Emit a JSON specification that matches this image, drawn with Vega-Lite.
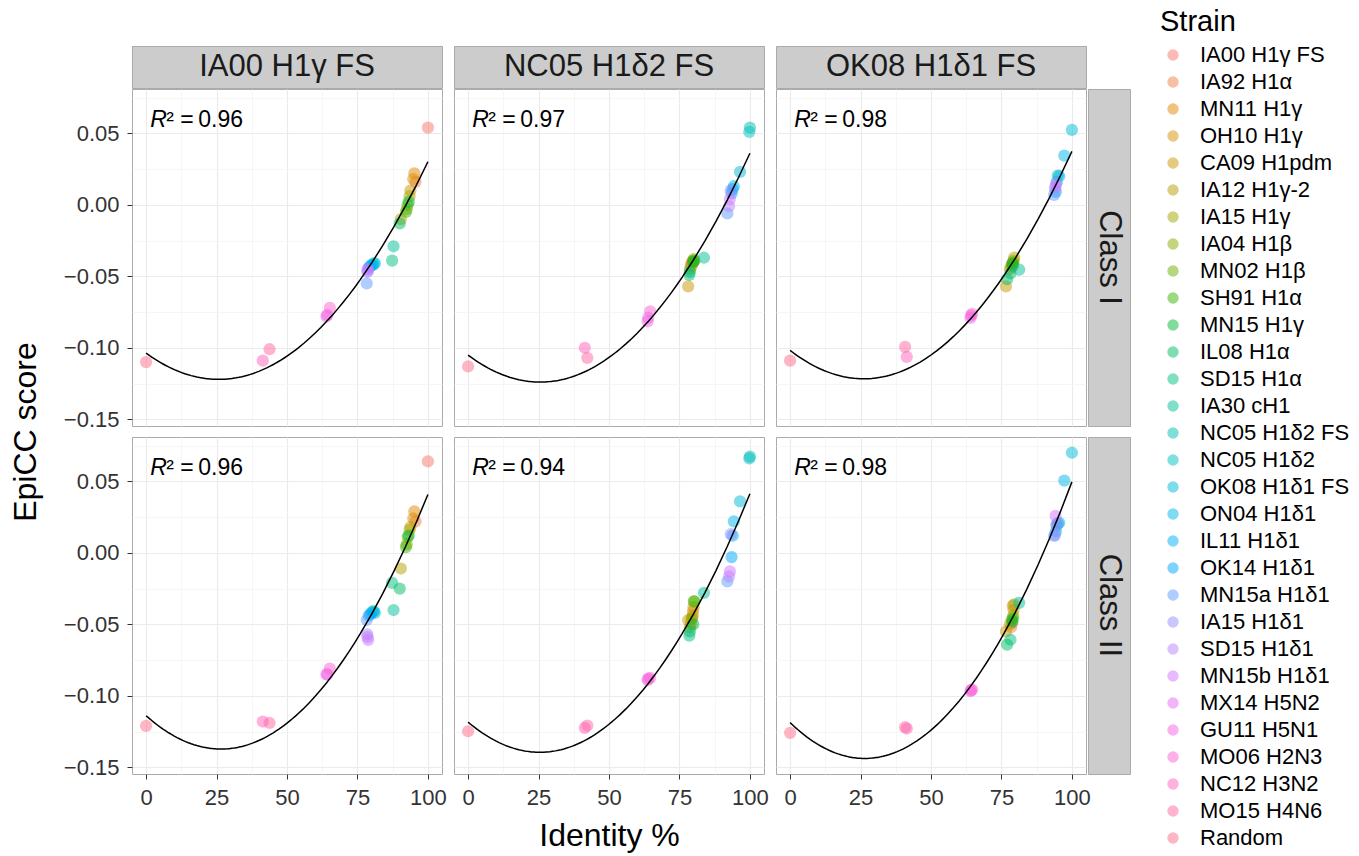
{
  "$schema": "https://vega.github.io/schema/vega-lite/v6.json",
  "autosize": "none",
  "padding": {"left": 132, "top": 46, "right": 1227, "bottom": 810},
  "background": "white",
  "config": {
    "font": "Liberation Sans",
    "view": {"stroke": "#aaaaaa", "strokeWidth": 1},
    "axis": {"domain": false, "gridColor": "#ebebeb", "gridWidth": 1.1, "tickSize": 5, "tickColor": "#333333", "tickWidth": 1, "labelFontSize": 22, "labelColor": "#333333", "labelPadding": 8, "titleFontSize": 32, "titleFontWeight": "normal", "titleColor": "black"},
    "legend": {"labelFontSize": 22}
  },
  "datasets": {
    "r2": [
      {"ref": "IA00", "cls": "I", "r2": 0.96},
      {"ref": "NC05", "cls": "I", "r2": 0.97},
      {"ref": "OK08", "cls": "I", "r2": 0.98},
      {"ref": "IA00", "cls": "II", "r2": 0.96},
      {"ref": "NC05", "cls": "II", "r2": 0.94},
      {"ref": "OK08", "cls": "II", "r2": 0.98}
    ],
    "points": [
      {"ref":"IA00","cls":"I","strain":"IA00 H1γ FS","identity":100,"score":0.054},
      {"ref":"IA00","cls":"I","strain":"IA92 H1α","identity":95.6,"score":0.016},
      {"ref":"IA00","cls":"I","strain":"MN11 H1γ","identity":95.2,"score":0.022},
      {"ref":"IA00","cls":"I","strain":"OH10 H1γ","identity":94.8,"score":0.018},
      {"ref":"IA00","cls":"I","strain":"CA09 H1pdm","identity":93.8,"score":0.010},
      {"ref":"IA00","cls":"I","strain":"IA12 H1γ-2","identity":90.4,"score":-0.010},
      {"ref":"IA00","cls":"I","strain":"IA15 H1γ","identity":93.5,"score":0.006},
      {"ref":"IA00","cls":"I","strain":"IA04 H1β","identity":92.5,"score":-0.003},
      {"ref":"IA00","cls":"I","strain":"MN02 H1β","identity":92.8,"score":0.000},
      {"ref":"IA00","cls":"I","strain":"SH91 H1α","identity":92.2,"score":-0.005},
      {"ref":"IA00","cls":"I","strain":"MN15 H1γ","identity":93.2,"score":0.002},
      {"ref":"IA00","cls":"I","strain":"IL08 H1α","identity":90.0,"score":-0.013},
      {"ref":"IA00","cls":"I","strain":"SD15 H1α","identity":87.3,"score":-0.039},
      {"ref":"IA00","cls":"I","strain":"IA30 cH1","identity":87.8,"score":-0.029},
      {"ref":"IA00","cls":"I","strain":"NC05 H1δ2 FS","identity":80.5,"score":-0.042},
      {"ref":"IA00","cls":"I","strain":"NC05 H1δ2","identity":80.8,"score":-0.041},
      {"ref":"IA00","cls":"I","strain":"OK08 H1δ1 FS","identity":80.0,"score":-0.042},
      {"ref":"IA00","cls":"I","strain":"ON04 H1δ1","identity":81.2,"score":-0.041},
      {"ref":"IA00","cls":"I","strain":"IL11 H1δ1","identity":79.5,"score":-0.043},
      {"ref":"IA00","cls":"I","strain":"OK14 H1δ1","identity":79.0,"score":-0.044},
      {"ref":"IA00","cls":"I","strain":"MN15a H1δ1","identity":78.3,"score":-0.055},
      {"ref":"IA00","cls":"I","strain":"IA15 H1δ1","identity":78.5,"score":-0.047},
      {"ref":"IA00","cls":"I","strain":"SD15 H1δ1","identity":78.8,"score":-0.046},
      {"ref":"IA00","cls":"I","strain":"MN15b H1δ1","identity":78.6,"score":-0.045},
      {"ref":"IA00","cls":"I","strain":"MX14 H5N2","identity":64.0,"score":-0.078},
      {"ref":"IA00","cls":"I","strain":"GU11 H5N1","identity":64.3,"score":-0.077},
      {"ref":"IA00","cls":"I","strain":"MO06 H2N3","identity":65.2,"score":-0.072},
      {"ref":"IA00","cls":"I","strain":"NC12 H3N2","identity":41.4,"score":-0.109},
      {"ref":"IA00","cls":"I","strain":"MO15 H4N6","identity":43.8,"score":-0.101},
      {"ref":"IA00","cls":"I","strain":"Random","identity":0,"score":-0.110},

      {"ref":"IA00","cls":"II","strain":"IA00 H1γ FS","identity":100,"score":0.064},
      {"ref":"IA00","cls":"II","strain":"IA92 H1α","identity":95.6,"score":0.022},
      {"ref":"IA00","cls":"II","strain":"MN11 H1γ","identity":95.2,"score":0.029},
      {"ref":"IA00","cls":"II","strain":"OH10 H1γ","identity":94.8,"score":0.024},
      {"ref":"IA00","cls":"II","strain":"CA09 H1pdm","identity":93.8,"score":0.018},
      {"ref":"IA00","cls":"II","strain":"IA12 H1γ-2","identity":90.4,"score":-0.011},
      {"ref":"IA00","cls":"II","strain":"IA15 H1γ","identity":93.5,"score":0.016},
      {"ref":"IA00","cls":"II","strain":"IA04 H1β","identity":92.5,"score":0.006},
      {"ref":"IA00","cls":"II","strain":"MN02 H1β","identity":92.8,"score":0.011},
      {"ref":"IA00","cls":"II","strain":"SH91 H1α","identity":92.2,"score":0.004},
      {"ref":"IA00","cls":"II","strain":"MN15 H1γ","identity":93.2,"score":0.012},
      {"ref":"IA00","cls":"II","strain":"IL08 H1α","identity":90.0,"score":-0.025},
      {"ref":"IA00","cls":"II","strain":"SD15 H1α","identity":87.3,"score":-0.021},
      {"ref":"IA00","cls":"II","strain":"IA30 cH1","identity":87.8,"score":-0.040},
      {"ref":"IA00","cls":"II","strain":"NC05 H1δ2 FS","identity":80.5,"score":-0.041},
      {"ref":"IA00","cls":"II","strain":"NC05 H1δ2","identity":80.8,"score":-0.041},
      {"ref":"IA00","cls":"II","strain":"OK08 H1δ1 FS","identity":80.0,"score":-0.042},
      {"ref":"IA00","cls":"II","strain":"ON04 H1δ1","identity":81.2,"score":-0.042},
      {"ref":"IA00","cls":"II","strain":"IL11 H1δ1","identity":79.5,"score":-0.043},
      {"ref":"IA00","cls":"II","strain":"OK14 H1δ1","identity":79.0,"score":-0.044},
      {"ref":"IA00","cls":"II","strain":"MN15a H1δ1","identity":78.3,"score":-0.047},
      {"ref":"IA00","cls":"II","strain":"IA15 H1δ1","identity":78.5,"score":-0.057},
      {"ref":"IA00","cls":"II","strain":"SD15 H1δ1","identity":78.8,"score":-0.061},
      {"ref":"IA00","cls":"II","strain":"MN15b H1δ1","identity":78.6,"score":-0.059},
      {"ref":"IA00","cls":"II","strain":"MX14 H5N2","identity":64.0,"score":-0.085},
      {"ref":"IA00","cls":"II","strain":"GU11 H5N1","identity":64.3,"score":-0.085},
      {"ref":"IA00","cls":"II","strain":"MO06 H2N3","identity":65.2,"score":-0.081},
      {"ref":"IA00","cls":"II","strain":"NC12 H3N2","identity":41.4,"score":-0.118},
      {"ref":"IA00","cls":"II","strain":"MO15 H4N6","identity":43.8,"score":-0.119},
      {"ref":"IA00","cls":"II","strain":"Random","identity":0,"score":-0.121},

      {"ref":"NC05","cls":"I","strain":"IA00 H1γ FS","identity":79.5,"score":-0.040},
      {"ref":"NC05","cls":"I","strain":"IA92 H1α","identity":79.0,"score":-0.042},
      {"ref":"NC05","cls":"I","strain":"MN11 H1γ","identity":79.8,"score":-0.039},
      {"ref":"NC05","cls":"I","strain":"OH10 H1γ","identity":80.0,"score":-0.040},
      {"ref":"NC05","cls":"I","strain":"CA09 H1pdm","identity":78.1,"score":-0.057},
      {"ref":"NC05","cls":"I","strain":"IA12 H1γ-2","identity":78.7,"score":-0.045},
      {"ref":"NC05","cls":"I","strain":"IA15 H1γ","identity":79.7,"score":-0.040},
      {"ref":"NC05","cls":"I","strain":"IA04 H1β","identity":79.3,"score":-0.043},
      {"ref":"NC05","cls":"I","strain":"MN02 H1β","identity":80.1,"score":-0.038},
      {"ref":"NC05","cls":"I","strain":"SH91 H1α","identity":80.3,"score":-0.039},
      {"ref":"NC05","cls":"I","strain":"MN15 H1γ","identity":79.9,"score":-0.040},
      {"ref":"NC05","cls":"I","strain":"IL08 H1α","identity":78.7,"score":-0.047},
      {"ref":"NC05","cls":"I","strain":"SD15 H1α","identity":78.5,"score":-0.049},
      {"ref":"NC05","cls":"I","strain":"IA30 cH1","identity":83.7,"score":-0.037},
      {"ref":"NC05","cls":"I","strain":"NC05 H1δ2 FS","identity":100,"score":0.054},
      {"ref":"NC05","cls":"I","strain":"NC05 H1δ2","identity":99.8,"score":0.051},
      {"ref":"NC05","cls":"I","strain":"OK08 H1δ1 FS","identity":96.5,"score":0.023},
      {"ref":"NC05","cls":"I","strain":"ON04 H1δ1","identity":94.3,"score":0.013},
      {"ref":"NC05","cls":"I","strain":"IL11 H1δ1","identity":93.9,"score":0.011},
      {"ref":"NC05","cls":"I","strain":"OK14 H1δ1","identity":93.5,"score":0.008},
      {"ref":"NC05","cls":"I","strain":"MN15a H1δ1","identity":92.0,"score":-0.006},
      {"ref":"NC05","cls":"I","strain":"IA15 H1δ1","identity":93.2,"score":0.010},
      {"ref":"NC05","cls":"I","strain":"SD15 H1δ1","identity":92.6,"score":-0.001},
      {"ref":"NC05","cls":"I","strain":"MN15b H1δ1","identity":92.9,"score":0.004},
      {"ref":"NC05","cls":"I","strain":"MX14 H5N2","identity":63.9,"score":-0.079},
      {"ref":"NC05","cls":"I","strain":"GU11 H5N1","identity":63.7,"score":-0.0815},
      {"ref":"NC05","cls":"I","strain":"MO06 H2N3","identity":64.6,"score":-0.0745},
      {"ref":"NC05","cls":"I","strain":"NC12 H3N2","identity":41.4,"score":-0.100},
      {"ref":"NC05","cls":"I","strain":"MO15 H4N6","identity":42.3,"score":-0.107},
      {"ref":"NC05","cls":"I","strain":"Random","identity":0,"score":-0.113},

      {"ref":"NC05","cls":"II","strain":"IA00 H1γ FS","identity":79.5,"score":-0.046},
      {"ref":"NC05","cls":"II","strain":"IA92 H1α","identity":79.0,"score":-0.050},
      {"ref":"NC05","cls":"II","strain":"MN11 H1γ","identity":79.8,"score":-0.041},
      {"ref":"NC05","cls":"II","strain":"OH10 H1γ","identity":80.0,"score":-0.038},
      {"ref":"NC05","cls":"II","strain":"CA09 H1pdm","identity":78.1,"score":-0.047},
      {"ref":"NC05","cls":"II","strain":"IA12 H1γ-2","identity":78.7,"score":-0.052},
      {"ref":"NC05","cls":"II","strain":"IA15 H1γ","identity":79.7,"score":-0.044},
      {"ref":"NC05","cls":"II","strain":"IA04 H1β","identity":79.3,"score":-0.046},
      {"ref":"NC05","cls":"II","strain":"MN02 H1β","identity":80.1,"score":-0.034},
      {"ref":"NC05","cls":"II","strain":"SH91 H1α","identity":80.3,"score":-0.034},
      {"ref":"NC05","cls":"II","strain":"MN15 H1γ","identity":79.9,"score":-0.050},
      {"ref":"NC05","cls":"II","strain":"IL08 H1α","identity":78.7,"score":-0.055},
      {"ref":"NC05","cls":"II","strain":"SD15 H1α","identity":78.5,"score":-0.058},
      {"ref":"NC05","cls":"II","strain":"IA30 cH1","identity":83.7,"score":-0.028},
      {"ref":"NC05","cls":"II","strain":"NC05 H1δ2 FS","identity":100,"score":0.0673},
      {"ref":"NC05","cls":"II","strain":"NC05 H1δ2","identity":99.8,"score":0.066},
      {"ref":"NC05","cls":"II","strain":"OK08 H1δ1 FS","identity":96.5,"score":0.036},
      {"ref":"NC05","cls":"II","strain":"ON04 H1δ1","identity":94.3,"score":0.022},
      {"ref":"NC05","cls":"II","strain":"IL11 H1δ1","identity":93.9,"score":0.012},
      {"ref":"NC05","cls":"II","strain":"OK14 H1δ1","identity":93.5,"score":-0.003},
      {"ref":"NC05","cls":"II","strain":"MN15a H1δ1","identity":92.0,"score":-0.020},
      {"ref":"NC05","cls":"II","strain":"IA15 H1δ1","identity":93.2,"score":0.013},
      {"ref":"NC05","cls":"II","strain":"SD15 H1δ1","identity":92.6,"score":-0.0165},
      {"ref":"NC05","cls":"II","strain":"MN15b H1δ1","identity":92.9,"score":-0.013},
      {"ref":"NC05","cls":"II","strain":"MX14 H5N2","identity":63.9,"score":-0.088},
      {"ref":"NC05","cls":"II","strain":"GU11 H5N1","identity":63.7,"score":-0.089},
      {"ref":"NC05","cls":"II","strain":"MO06 H2N3","identity":64.6,"score":-0.0875},
      {"ref":"NC05","cls":"II","strain":"NC12 H3N2","identity":41.4,"score":-0.1224},
      {"ref":"NC05","cls":"II","strain":"MO15 H4N6","identity":42.3,"score":-0.1208},
      {"ref":"NC05","cls":"II","strain":"Random","identity":0,"score":-0.1248},

      {"ref":"OK08","cls":"I","strain":"IA00 H1γ FS","identity":78.8,"score":-0.042},
      {"ref":"OK08","cls":"I","strain":"IA92 H1α","identity":78.4,"score":-0.044},
      {"ref":"OK08","cls":"I","strain":"MN11 H1γ","identity":79.3,"score":-0.039},
      {"ref":"OK08","cls":"I","strain":"OH10 H1γ","identity":79.0,"score":-0.041},
      {"ref":"OK08","cls":"I","strain":"CA09 H1pdm","identity":76.6,"score":-0.057},
      {"ref":"OK08","cls":"I","strain":"IA12 H1γ-2","identity":78.0,"score":-0.045},
      {"ref":"OK08","cls":"I","strain":"IA15 H1γ","identity":79.5,"score":-0.037},
      {"ref":"OK08","cls":"I","strain":"IA04 H1β","identity":78.6,"score":-0.042},
      {"ref":"OK08","cls":"I","strain":"MN02 H1β","identity":79.2,"score":-0.040},
      {"ref":"OK08","cls":"I","strain":"SH91 H1α","identity":79.0,"score":-0.043},
      {"ref":"OK08","cls":"I","strain":"MN15 H1γ","identity":78.9,"score":-0.041},
      {"ref":"OK08","cls":"I","strain":"IL08 H1α","identity":77.0,"score":-0.052},
      {"ref":"OK08","cls":"I","strain":"SD15 H1α","identity":78.2,"score":-0.048},
      {"ref":"OK08","cls":"I","strain":"IA30 cH1","identity":81.3,"score":-0.0454},
      {"ref":"OK08","cls":"I","strain":"NC05 H1δ2 FS","identity":95.0,"score":0.0205},
      {"ref":"OK08","cls":"I","strain":"NC05 H1δ2","identity":94.6,"score":0.016},
      {"ref":"OK08","cls":"I","strain":"OK08 H1δ1 FS","identity":100,"score":0.0524},
      {"ref":"OK08","cls":"I","strain":"ON04 H1δ1","identity":97.3,"score":0.0344},
      {"ref":"OK08","cls":"I","strain":"IL11 H1δ1","identity":95.5,"score":0.020},
      {"ref":"OK08","cls":"I","strain":"OK14 H1δ1","identity":94.3,"score":0.009},
      {"ref":"OK08","cls":"I","strain":"MN15a H1δ1","identity":93.7,"score":0.007},
      {"ref":"OK08","cls":"I","strain":"IA15 H1δ1","identity":94.0,"score":0.0116},
      {"ref":"OK08","cls":"I","strain":"SD15 H1δ1","identity":94.5,"score":0.0151},
      {"ref":"OK08","cls":"I","strain":"MN15b H1δ1","identity":94.2,"score":0.013},
      {"ref":"OK08","cls":"I","strain":"MX14 H5N2","identity":64.0,"score":-0.0791},
      {"ref":"OK08","cls":"I","strain":"GU11 H5N1","identity":64.6,"score":-0.0763},
      {"ref":"OK08","cls":"I","strain":"MO06 H2N3","identity":64.2,"score":-0.0775},
      {"ref":"OK08","cls":"I","strain":"NC12 H3N2","identity":41.4,"score":-0.1064},
      {"ref":"OK08","cls":"I","strain":"MO15 H4N6","identity":40.8,"score":-0.0994},
      {"ref":"OK08","cls":"I","strain":"Random","identity":0,"score":-0.109},

      {"ref":"OK08","cls":"II","strain":"IA00 H1γ FS","identity":78.8,"score":-0.049},
      {"ref":"OK08","cls":"II","strain":"IA92 H1α","identity":78.4,"score":-0.052},
      {"ref":"OK08","cls":"II","strain":"MN11 H1γ","identity":79.3,"score":-0.040},
      {"ref":"OK08","cls":"II","strain":"OH10 H1γ","identity":79.0,"score":-0.037},
      {"ref":"OK08","cls":"II","strain":"CA09 H1pdm","identity":76.6,"score":-0.055},
      {"ref":"OK08","cls":"II","strain":"IA12 H1γ-2","identity":78.0,"score":-0.050},
      {"ref":"OK08","cls":"II","strain":"IA15 H1γ","identity":79.5,"score":-0.036},
      {"ref":"OK08","cls":"II","strain":"IA04 H1β","identity":78.6,"score":-0.047},
      {"ref":"OK08","cls":"II","strain":"MN02 H1β","identity":79.2,"score":-0.044},
      {"ref":"OK08","cls":"II","strain":"SH91 H1α","identity":79.0,"score":-0.046},
      {"ref":"OK08","cls":"II","strain":"MN15 H1γ","identity":78.9,"score":-0.048},
      {"ref":"OK08","cls":"II","strain":"IL08 H1α","identity":77.0,"score":-0.0642},
      {"ref":"OK08","cls":"II","strain":"SD15 H1α","identity":78.2,"score":-0.0608},
      {"ref":"OK08","cls":"II","strain":"IA30 cH1","identity":81.3,"score":-0.035},
      {"ref":"OK08","cls":"II","strain":"NC05 H1δ2 FS","identity":95.0,"score":0.0207},
      {"ref":"OK08","cls":"II","strain":"NC05 H1δ2","identity":94.6,"score":0.019},
      {"ref":"OK08","cls":"II","strain":"OK08 H1δ1 FS","identity":100,"score":0.070},
      {"ref":"OK08","cls":"II","strain":"ON04 H1δ1","identity":97.3,"score":0.0505},
      {"ref":"OK08","cls":"II","strain":"IL11 H1δ1","identity":95.5,"score":0.021},
      {"ref":"OK08","cls":"II","strain":"OK14 H1δ1","identity":94.3,"score":0.0149},
      {"ref":"OK08","cls":"II","strain":"MN15a H1δ1","identity":93.7,"score":0.0119},
      {"ref":"OK08","cls":"II","strain":"IA15 H1δ1","identity":94.0,"score":0.0125},
      {"ref":"OK08","cls":"II","strain":"SD15 H1δ1","identity":94.5,"score":0.020},
      {"ref":"OK08","cls":"II","strain":"MN15b H1δ1","identity":94.2,"score":0.0258},
      {"ref":"OK08","cls":"II","strain":"MX14 H5N2","identity":64.0,"score":-0.0968},
      {"ref":"OK08","cls":"II","strain":"GU11 H5N1","identity":64.6,"score":-0.0957},
      {"ref":"OK08","cls":"II","strain":"MO06 H2N3","identity":64.2,"score":-0.096},
      {"ref":"OK08","cls":"II","strain":"NC12 H3N2","identity":41.4,"score":-0.1229},
      {"ref":"OK08","cls":"II","strain":"MO15 H4N6","identity":40.8,"score":-0.122},
      {"ref":"OK08","cls":"II","strain":"Random","identity":0,"score":-0.1259}
    ]
  },
  "columns": 6,
  "bounds": "flush",
  "align": "each",
  "spacing": {"row": 1, "column": 2},
  "concat": [
    {"width": 310, "height": 42, "view": {"fill": "#cccccc", "stroke": "#aaaaaa"}, "data": {"values": [{"label": "IA00 H1γ FS"}]}, "mark": {"type": "text", "fontSize": 31, "color": "#1a1a1a"}, "encoding": {"text": {"field": "label"}}},
    {"width": 8, "height": 1, "view": {"stroke": null}, "data": {"values": []}, "mark": {"type": "point"}},
    {"width": 310, "height": 42, "view": {"fill": "#cccccc", "stroke": "#aaaaaa"}, "data": {"values": [{"label": "NC05 H1δ2 FS"}]}, "mark": {"type": "text", "fontSize": 31, "color": "#1a1a1a"}, "encoding": {"text": {"field": "label"}}},
    {"width": 8, "height": 1, "view": {"stroke": null}, "data": {"values": []}, "mark": {"type": "point"}},
    {"width": 310, "height": 42, "view": {"fill": "#cccccc", "stroke": "#aaaaaa"}, "data": {"values": [{"label": "OK08 H1δ1 FS"}]}, "mark": {"type": "text", "fontSize": 31, "color": "#1a1a1a"}, "encoding": {"text": {"field": "label"}}},
    {"width": 1, "height": 1, "view": {"stroke": null}, "data": {"values": []}, "mark": {"type": "point"}},

    {
      "width": 310, "height": 337,
      "resolve": {"axis": {"x": "independent", "y": "independent"}},
      "layer": [
        {"data": {"name": "points"}, "transform": [{"filter": {"and": [{"field": "ref", "equal": "IA00"}, {"field": "cls", "equal": "I"}]}}],
         "mark": {"type": "point", "filled": true, "size": 150, "opacity": 0.5, "strokeWidth": 0},
         "encoding": {
           "x": {"field": "identity", "type": "quantitative", "scale": {"domain": [-5, 105], "nice": false, "zero": false}, "axis": {"values": [0, 25, 50, 75, 100], "grid": true, "labels": false, "ticks": false, "title": null}},
           "y": {"field": "score", "type": "quantitative", "scale": {"domain": [-0.1547, 0.081], "nice": false, "zero": false}, "axis": {"values": [-0.15, -0.1, -0.05, 0, 0.05], "format": ".2f", "grid": true, "title": "EpiCC score", "titleX": -107, "titleY": 342.5, "titleBaseline": "middle", "titleAlign": "center", "titleAngle": 270}},
           "color": {"field": "strain", "type": "nominal", "scale": {"domain": ["IA00 H1γ FS","IA92 H1α","MN11 H1γ","OH10 H1γ","CA09 H1pdm","IA12 H1γ-2","IA15 H1γ","IA04 H1β","MN02 H1β","SH91 H1α","MN15 H1γ","IL08 H1α","SD15 H1α","IA30 cH1","NC05 H1δ2 FS","NC05 H1δ2","OK08 H1δ1 FS","ON04 H1δ1","IL11 H1δ1","OK14 H1δ1","MN15a H1δ1","IA15 H1δ1","SD15 H1δ1","MN15b H1δ1","MX14 H5N2","GU11 H5N1","MO06 H2N3","NC12 H3N2","MO15 H4N6","Random"], "range": ["#F8766D","#EF7F49","#E58700","#D89000","#C99800","#B79F00","#A3A500","#8AAB00","#6BB100","#39B600","#00BA38","#00BD5F","#00BF7D","#00C097","#00C0AF","#00BFC4","#00BCD8","#00B7E9","#00B0F6","#00A7FF","#619CFF","#9590FF","#B983FF","#D376FF","#E76BF3","#F564E3","#FD61D1","#FF62BC","#FF67A4","#FE6E8A"]},
             "legend": {"title": "Strain", "orient": "none", "legendX": 1028, "legendY": -38, "padding": 0, "titleFontSize": 29, "titleFontWeight": "normal", "titleColor": "black", "titlePadding": 7, "labelFontSize": 22, "labelColor": "black", "labelLimit": 400, "symbolType": "circle", "symbolSize": 130, "symbolOpacity": 0.5, "symbolStrokeWidth": 0, "symbolOffset": 2, "labelOffset": 16, "rowPadding": 5}}
         }},
        {"data": {"name": "points"}, "transform": [{"filter": {"and": [{"field": "ref", "equal": "IA00"}, {"field": "cls", "equal": "I"}]}}, {"regression": "score", "on": "identity", "method": "poly", "order": 2, "extent": [0, 100]}],
         "mark": {"type": "line", "color": "black", "strokeWidth": 1.5},
         "encoding": {
           "x": {"field": "identity", "type": "quantitative", "scale": {"domain": [-5, 105], "nice": false, "zero": false}, "axis": {"values": [12.5, 37.5, 62.5, 87.5], "grid": true, "gridColor": "#f4f4f4", "gridWidth": 0.8, "labels": false, "ticks": false, "title": null, "orient": "bottom"}},
           "y": {"field": "score", "type": "quantitative", "scale": {"domain": [-0.1547, 0.081], "nice": false, "zero": false}, "axis": {"values": [-0.125, -0.075, -0.025, 0.025, 0.075], "grid": true, "gridColor": "#f4f4f4", "gridWidth": 0.8, "labels": false, "ticks": false, "title": null, "orient": "left"}}
         }},
        {"data": {"name": "r2"}, "transform": [{"filter": {"and": [{"field": "ref", "equal": "IA00"}, {"field": "cls", "equal": "I"}]}}],
         "mark": {"type": "text", "text": "R", "fontStyle": "italic", "align": "left", "baseline": "middle", "fontSize": 23, "color": "black"},
         "encoding": {"x": {"datum": 1.5, "type": "quantitative", "axis": null}, "y": {"datum": 0.0595, "type": "quantitative", "axis": null}}},
        {"data": {"name": "r2"}, "transform": [{"filter": {"and": [{"field": "ref", "equal": "IA00"}, {"field": "cls", "equal": "I"}]}}],
         "mark": {"type": "text", "text": "² =", "align": "left", "baseline": "middle", "fontSize": 23, "dx": 16, "color": "black"},
         "encoding": {"x": {"datum": 1.5, "type": "quantitative", "axis": null}, "y": {"datum": 0.0595, "type": "quantitative", "axis": null}}},
        {"data": {"name": "r2"}, "transform": [{"filter": {"and": [{"field": "ref", "equal": "IA00"}, {"field": "cls", "equal": "I"}]}}],
         "mark": {"type": "text", "align": "left", "baseline": "middle", "fontSize": 23, "dx": 48, "color": "black"},
         "encoding": {"text": {"field": "r2", "type": "quantitative", "format": ".2f"}, "x": {"datum": 1.5, "type": "quantitative", "axis": null}, "y": {"datum": 0.0595, "type": "quantitative", "axis": null}}}
      ]
    },
    {"width": 8, "height": 1, "view": {"stroke": null}, "data": {"values": []}, "mark": {"type": "point"}},
    {
      "width": 310, "height": 337,
      "resolve": {"axis": {"x": "independent", "y": "independent"}},
      "layer": [
        {"data": {"name": "points"}, "transform": [{"filter": {"and": [{"field": "ref", "equal": "NC05"}, {"field": "cls", "equal": "I"}]}}],
         "mark": {"type": "point", "filled": true, "size": 150, "opacity": 0.5, "strokeWidth": 0},
         "encoding": {
           "x": {"field": "identity", "type": "quantitative", "scale": {"domain": [-5, 105], "nice": false, "zero": false}, "axis": {"values": [0, 25, 50, 75, 100], "grid": true, "labels": false, "ticks": false, "title": null}},
           "y": {"field": "score", "type": "quantitative", "scale": {"domain": [-0.1547, 0.081], "nice": false, "zero": false}, "axis": {"values": [-0.15, -0.1, -0.05, 0, 0.05], "grid": true, "labels": false, "ticks": false, "title": null}},
           "color": {"field": "strain", "type": "nominal", "legend": {"title": "Strain", "orient": "none", "legendX": 1028, "legendY": -38, "padding": 0, "titleFontSize": 29, "titleFontWeight": "normal", "titleColor": "black", "titlePadding": 7, "labelFontSize": 22, "labelColor": "black", "labelLimit": 400, "symbolType": "circle", "symbolSize": 130, "symbolOpacity": 0.5, "symbolStrokeWidth": 0, "symbolOffset": 2, "labelOffset": 16, "rowPadding": 5}}
         }},
        {"data": {"name": "points"}, "transform": [{"filter": {"and": [{"field": "ref", "equal": "NC05"}, {"field": "cls", "equal": "I"}]}}, {"regression": "score", "on": "identity", "method": "poly", "order": 2, "extent": [0, 100]}],
         "mark": {"type": "line", "color": "black", "strokeWidth": 1.5},
         "encoding": {
           "x": {"field": "identity", "type": "quantitative", "scale": {"domain": [-5, 105], "nice": false, "zero": false}, "axis": {"values": [12.5, 37.5, 62.5, 87.5], "grid": true, "gridColor": "#f4f4f4", "gridWidth": 0.8, "labels": false, "ticks": false, "title": null, "orient": "bottom"}},
           "y": {"field": "score", "type": "quantitative", "scale": {"domain": [-0.1547, 0.081], "nice": false, "zero": false}, "axis": {"values": [-0.125, -0.075, -0.025, 0.025, 0.075], "grid": true, "gridColor": "#f4f4f4", "gridWidth": 0.8, "labels": false, "ticks": false, "title": null, "orient": "left"}}
         }},
        {"data": {"name": "r2"}, "transform": [{"filter": {"and": [{"field": "ref", "equal": "NC05"}, {"field": "cls", "equal": "I"}]}}],
         "mark": {"type": "text", "text": "R", "fontStyle": "italic", "align": "left", "baseline": "middle", "fontSize": 23, "color": "black"},
         "encoding": {"x": {"datum": 1.5, "type": "quantitative", "axis": null}, "y": {"datum": 0.0595, "type": "quantitative", "axis": null}}},
        {"data": {"name": "r2"}, "transform": [{"filter": {"and": [{"field": "ref", "equal": "NC05"}, {"field": "cls", "equal": "I"}]}}],
         "mark": {"type": "text", "text": "² =", "align": "left", "baseline": "middle", "fontSize": 23, "dx": 16, "color": "black"},
         "encoding": {"x": {"datum": 1.5, "type": "quantitative", "axis": null}, "y": {"datum": 0.0595, "type": "quantitative", "axis": null}}},
        {"data": {"name": "r2"}, "transform": [{"filter": {"and": [{"field": "ref", "equal": "NC05"}, {"field": "cls", "equal": "I"}]}}],
         "mark": {"type": "text", "align": "left", "baseline": "middle", "fontSize": 23, "dx": 48, "color": "black"},
         "encoding": {"text": {"field": "r2", "type": "quantitative", "format": ".2f"}, "x": {"datum": 1.5, "type": "quantitative", "axis": null}, "y": {"datum": 0.0595, "type": "quantitative", "axis": null}}}
      ]
    },
    {"width": 8, "height": 1, "view": {"stroke": null}, "data": {"values": []}, "mark": {"type": "point"}},
    {
      "width": 310, "height": 337,
      "resolve": {"axis": {"x": "independent", "y": "independent"}},
      "layer": [
        {"data": {"name": "points"}, "transform": [{"filter": {"and": [{"field": "ref", "equal": "OK08"}, {"field": "cls", "equal": "I"}]}}],
         "mark": {"type": "point", "filled": true, "size": 150, "opacity": 0.5, "strokeWidth": 0},
         "encoding": {
           "x": {"field": "identity", "type": "quantitative", "scale": {"domain": [-5, 105], "nice": false, "zero": false}, "axis": {"values": [0, 25, 50, 75, 100], "grid": true, "labels": false, "ticks": false, "title": null}},
           "y": {"field": "score", "type": "quantitative", "scale": {"domain": [-0.1547, 0.081], "nice": false, "zero": false}, "axis": {"values": [-0.15, -0.1, -0.05, 0, 0.05], "grid": true, "labels": false, "ticks": false, "title": null}},
           "color": {"field": "strain", "type": "nominal", "legend": {"title": "Strain", "orient": "none", "legendX": 1028, "legendY": -38, "padding": 0, "titleFontSize": 29, "titleFontWeight": "normal", "titleColor": "black", "titlePadding": 7, "labelFontSize": 22, "labelColor": "black", "labelLimit": 400, "symbolType": "circle", "symbolSize": 130, "symbolOpacity": 0.5, "symbolStrokeWidth": 0, "symbolOffset": 2, "labelOffset": 16, "rowPadding": 5}}
         }},
        {"data": {"name": "points"}, "transform": [{"filter": {"and": [{"field": "ref", "equal": "OK08"}, {"field": "cls", "equal": "I"}]}}, {"regression": "score", "on": "identity", "method": "poly", "order": 2, "extent": [0, 100]}],
         "mark": {"type": "line", "color": "black", "strokeWidth": 1.5},
         "encoding": {
           "x": {"field": "identity", "type": "quantitative", "scale": {"domain": [-5, 105], "nice": false, "zero": false}, "axis": {"values": [12.5, 37.5, 62.5, 87.5], "grid": true, "gridColor": "#f4f4f4", "gridWidth": 0.8, "labels": false, "ticks": false, "title": null, "orient": "bottom"}},
           "y": {"field": "score", "type": "quantitative", "scale": {"domain": [-0.1547, 0.081], "nice": false, "zero": false}, "axis": {"values": [-0.125, -0.075, -0.025, 0.025, 0.075], "grid": true, "gridColor": "#f4f4f4", "gridWidth": 0.8, "labels": false, "ticks": false, "title": null, "orient": "left"}}
         }},
        {"data": {"name": "r2"}, "transform": [{"filter": {"and": [{"field": "ref", "equal": "OK08"}, {"field": "cls", "equal": "I"}]}}],
         "mark": {"type": "text", "text": "R", "fontStyle": "italic", "align": "left", "baseline": "middle", "fontSize": 23, "color": "black"},
         "encoding": {"x": {"datum": 1.5, "type": "quantitative", "axis": null}, "y": {"datum": 0.0595, "type": "quantitative", "axis": null}}},
        {"data": {"name": "r2"}, "transform": [{"filter": {"and": [{"field": "ref", "equal": "OK08"}, {"field": "cls", "equal": "I"}]}}],
         "mark": {"type": "text", "text": "² =", "align": "left", "baseline": "middle", "fontSize": 23, "dx": 16, "color": "black"},
         "encoding": {"x": {"datum": 1.5, "type": "quantitative", "axis": null}, "y": {"datum": 0.0595, "type": "quantitative", "axis": null}}},
        {"data": {"name": "r2"}, "transform": [{"filter": {"and": [{"field": "ref", "equal": "OK08"}, {"field": "cls", "equal": "I"}]}}],
         "mark": {"type": "text", "align": "left", "baseline": "middle", "fontSize": 23, "dx": 48, "color": "black"},
         "encoding": {"text": {"field": "r2", "type": "quantitative", "format": ".2f"}, "x": {"datum": 1.5, "type": "quantitative", "axis": null}, "y": {"datum": 0.0595, "type": "quantitative", "axis": null}}}
      ]
    },
    {"width": 42, "height": 337, "view": {"fill": "#cccccc", "stroke": "#aaaaaa"}, "data": {"values": [{"label": "Class I"}]}, "mark": {"type": "text", "fontSize": 31, "angle": 90, "color": "#1a1a1a"}, "encoding": {"text": {"field": "label"}}},

    {"width": 1, "height": 9, "view": {"stroke": null}, "data": {"values": []}, "mark": {"type": "point"}},
    {"width": 1, "height": 9, "view": {"stroke": null}, "data": {"values": []}, "mark": {"type": "point"}},
    {"width": 1, "height": 9, "view": {"stroke": null}, "data": {"values": []}, "mark": {"type": "point"}},
    {"width": 1, "height": 9, "view": {"stroke": null}, "data": {"values": []}, "mark": {"type": "point"}},
    {"width": 1, "height": 9, "view": {"stroke": null}, "data": {"values": []}, "mark": {"type": "point"}},
    {"width": 1, "height": 9, "view": {"stroke": null}, "data": {"values": []}, "mark": {"type": "point"}},

    {
      "width": 310, "height": 337,
      "resolve": {"axis": {"x": "independent", "y": "independent"}},
      "layer": [
        {"data": {"name": "points"}, "transform": [{"filter": {"and": [{"field": "ref", "equal": "IA00"}, {"field": "cls", "equal": "II"}]}}],
         "mark": {"type": "point", "filled": true, "size": 150, "opacity": 0.5, "strokeWidth": 0},
         "encoding": {
           "x": {"field": "identity", "type": "quantitative", "scale": {"domain": [-5, 105], "nice": false, "zero": false}, "axis": {"values": [0, 25, 50, 75, 100], "grid": true, "title": null}},
           "y": {"field": "score", "type": "quantitative", "scale": {"domain": [-0.1547, 0.081], "nice": false, "zero": false}, "axis": {"values": [-0.15, -0.1, -0.05, 0, 0.05], "format": ".2f", "grid": true, "title": null}},
           "color": {"field": "strain", "type": "nominal", "legend": {"title": "Strain", "orient": "none", "legendX": 1028, "legendY": -38, "padding": 0, "titleFontSize": 29, "titleFontWeight": "normal", "titleColor": "black", "titlePadding": 7, "labelFontSize": 22, "labelColor": "black", "labelLimit": 400, "symbolType": "circle", "symbolSize": 130, "symbolOpacity": 0.5, "symbolStrokeWidth": 0, "symbolOffset": 2, "labelOffset": 16, "rowPadding": 5}}
         }},
        {"data": {"name": "points"}, "transform": [{"filter": {"and": [{"field": "ref", "equal": "IA00"}, {"field": "cls", "equal": "II"}]}}, {"regression": "score", "on": "identity", "method": "poly", "order": 2, "extent": [0, 100]}],
         "mark": {"type": "line", "color": "black", "strokeWidth": 1.5},
         "encoding": {
           "x": {"field": "identity", "type": "quantitative", "scale": {"domain": [-5, 105], "nice": false, "zero": false}, "axis": {"values": [12.5, 37.5, 62.5, 87.5], "grid": true, "gridColor": "#f4f4f4", "gridWidth": 0.8, "labels": false, "ticks": false, "title": null, "orient": "top"}},
           "y": {"field": "score", "type": "quantitative", "scale": {"domain": [-0.1547, 0.081], "nice": false, "zero": false}, "axis": {"values": [-0.125, -0.075, -0.025, 0.025, 0.075], "grid": true, "gridColor": "#f4f4f4", "gridWidth": 0.8, "labels": false, "ticks": false, "title": null, "orient": "right"}}
         }},
        {"data": {"name": "r2"}, "transform": [{"filter": {"and": [{"field": "ref", "equal": "IA00"}, {"field": "cls", "equal": "II"}]}}],
         "mark": {"type": "text", "text": "R", "fontStyle": "italic", "align": "left", "baseline": "middle", "fontSize": 23, "color": "black"},
         "encoding": {"x": {"datum": 1.5, "type": "quantitative", "axis": null}, "y": {"datum": 0.0595, "type": "quantitative", "axis": null}}},
        {"data": {"name": "r2"}, "transform": [{"filter": {"and": [{"field": "ref", "equal": "IA00"}, {"field": "cls", "equal": "II"}]}}],
         "mark": {"type": "text", "text": "² =", "align": "left", "baseline": "middle", "fontSize": 23, "dx": 16, "color": "black"},
         "encoding": {"x": {"datum": 1.5, "type": "quantitative", "axis": null}, "y": {"datum": 0.0595, "type": "quantitative", "axis": null}}},
        {"data": {"name": "r2"}, "transform": [{"filter": {"and": [{"field": "ref", "equal": "IA00"}, {"field": "cls", "equal": "II"}]}}],
         "mark": {"type": "text", "align": "left", "baseline": "middle", "fontSize": 23, "dx": 48, "color": "black"},
         "encoding": {"text": {"field": "r2", "type": "quantitative", "format": ".2f"}, "x": {"datum": 1.5, "type": "quantitative", "axis": null}, "y": {"datum": 0.0595, "type": "quantitative", "axis": null}}}
      ]
    },
    {"width": 8, "height": 1, "view": {"stroke": null}, "data": {"values": []}, "mark": {"type": "point"}},
    {
      "width": 310, "height": 337,
      "resolve": {"axis": {"x": "independent", "y": "independent"}},
      "layer": [
        {"data": {"name": "points"}, "transform": [{"filter": {"and": [{"field": "ref", "equal": "NC05"}, {"field": "cls", "equal": "II"}]}}],
         "mark": {"type": "point", "filled": true, "size": 150, "opacity": 0.5, "strokeWidth": 0},
         "encoding": {
           "x": {"field": "identity", "type": "quantitative", "scale": {"domain": [-5, 105], "nice": false, "zero": false}, "axis": {"values": [0, 25, 50, 75, 100], "grid": true, "title": "Identity %", "titleY": 61, "titleBaseline": "middle"}},
           "y": {"field": "score", "type": "quantitative", "scale": {"domain": [-0.1547, 0.081], "nice": false, "zero": false}, "axis": {"values": [-0.15, -0.1, -0.05, 0, 0.05], "grid": true, "labels": false, "ticks": false, "title": null}},
           "color": {"field": "strain", "type": "nominal", "legend": {"title": "Strain", "orient": "none", "legendX": 1028, "legendY": -38, "padding": 0, "titleFontSize": 29, "titleFontWeight": "normal", "titleColor": "black", "titlePadding": 7, "labelFontSize": 22, "labelColor": "black", "labelLimit": 400, "symbolType": "circle", "symbolSize": 130, "symbolOpacity": 0.5, "symbolStrokeWidth": 0, "symbolOffset": 2, "labelOffset": 16, "rowPadding": 5}}
         }},
        {"data": {"name": "points"}, "transform": [{"filter": {"and": [{"field": "ref", "equal": "NC05"}, {"field": "cls", "equal": "II"}]}}, {"regression": "score", "on": "identity", "method": "poly", "order": 2, "extent": [0, 100]}],
         "mark": {"type": "line", "color": "black", "strokeWidth": 1.5},
         "encoding": {
           "x": {"field": "identity", "type": "quantitative", "scale": {"domain": [-5, 105], "nice": false, "zero": false}, "axis": {"values": [12.5, 37.5, 62.5, 87.5], "grid": true, "gridColor": "#f4f4f4", "gridWidth": 0.8, "labels": false, "ticks": false, "title": null, "orient": "top"}},
           "y": {"field": "score", "type": "quantitative", "scale": {"domain": [-0.1547, 0.081], "nice": false, "zero": false}, "axis": {"values": [-0.125, -0.075, -0.025, 0.025, 0.075], "grid": true, "gridColor": "#f4f4f4", "gridWidth": 0.8, "labels": false, "ticks": false, "title": null, "orient": "right"}}
         }},
        {"data": {"name": "r2"}, "transform": [{"filter": {"and": [{"field": "ref", "equal": "NC05"}, {"field": "cls", "equal": "II"}]}}],
         "mark": {"type": "text", "text": "R", "fontStyle": "italic", "align": "left", "baseline": "middle", "fontSize": 23, "color": "black"},
         "encoding": {"x": {"datum": 1.5, "type": "quantitative", "axis": null}, "y": {"datum": 0.0595, "type": "quantitative", "axis": null}}},
        {"data": {"name": "r2"}, "transform": [{"filter": {"and": [{"field": "ref", "equal": "NC05"}, {"field": "cls", "equal": "II"}]}}],
         "mark": {"type": "text", "text": "² =", "align": "left", "baseline": "middle", "fontSize": 23, "dx": 16, "color": "black"},
         "encoding": {"x": {"datum": 1.5, "type": "quantitative", "axis": null}, "y": {"datum": 0.0595, "type": "quantitative", "axis": null}}},
        {"data": {"name": "r2"}, "transform": [{"filter": {"and": [{"field": "ref", "equal": "NC05"}, {"field": "cls", "equal": "II"}]}}],
         "mark": {"type": "text", "align": "left", "baseline": "middle", "fontSize": 23, "dx": 48, "color": "black"},
         "encoding": {"text": {"field": "r2", "type": "quantitative", "format": ".2f"}, "x": {"datum": 1.5, "type": "quantitative", "axis": null}, "y": {"datum": 0.0595, "type": "quantitative", "axis": null}}}
      ]
    },
    {"width": 8, "height": 1, "view": {"stroke": null}, "data": {"values": []}, "mark": {"type": "point"}},
    {
      "width": 310, "height": 337,
      "resolve": {"axis": {"x": "independent", "y": "independent"}},
      "layer": [
        {"data": {"name": "points"}, "transform": [{"filter": {"and": [{"field": "ref", "equal": "OK08"}, {"field": "cls", "equal": "II"}]}}],
         "mark": {"type": "point", "filled": true, "size": 150, "opacity": 0.5, "strokeWidth": 0},
         "encoding": {
           "x": {"field": "identity", "type": "quantitative", "scale": {"domain": [-5, 105], "nice": false, "zero": false}, "axis": {"values": [0, 25, 50, 75, 100], "grid": true, "title": null}},
           "y": {"field": "score", "type": "quantitative", "scale": {"domain": [-0.1547, 0.081], "nice": false, "zero": false}, "axis": {"values": [-0.15, -0.1, -0.05, 0, 0.05], "grid": true, "labels": false, "ticks": false, "title": null}},
           "color": {"field": "strain", "type": "nominal", "legend": {"title": "Strain", "orient": "none", "legendX": 1028, "legendY": -38, "padding": 0, "titleFontSize": 29, "titleFontWeight": "normal", "titleColor": "black", "titlePadding": 7, "labelFontSize": 22, "labelColor": "black", "labelLimit": 400, "symbolType": "circle", "symbolSize": 130, "symbolOpacity": 0.5, "symbolStrokeWidth": 0, "symbolOffset": 2, "labelOffset": 16, "rowPadding": 5}}
         }},
        {"data": {"name": "points"}, "transform": [{"filter": {"and": [{"field": "ref", "equal": "OK08"}, {"field": "cls", "equal": "II"}]}}, {"regression": "score", "on": "identity", "method": "poly", "order": 2, "extent": [0, 100]}],
         "mark": {"type": "line", "color": "black", "strokeWidth": 1.5},
         "encoding": {
           "x": {"field": "identity", "type": "quantitative", "scale": {"domain": [-5, 105], "nice": false, "zero": false}, "axis": {"values": [12.5, 37.5, 62.5, 87.5], "grid": true, "gridColor": "#f4f4f4", "gridWidth": 0.8, "labels": false, "ticks": false, "title": null, "orient": "top"}},
           "y": {"field": "score", "type": "quantitative", "scale": {"domain": [-0.1547, 0.081], "nice": false, "zero": false}, "axis": {"values": [-0.125, -0.075, -0.025, 0.025, 0.075], "grid": true, "gridColor": "#f4f4f4", "gridWidth": 0.8, "labels": false, "ticks": false, "title": null, "orient": "right"}}
         }},
        {"data": {"name": "r2"}, "transform": [{"filter": {"and": [{"field": "ref", "equal": "OK08"}, {"field": "cls", "equal": "II"}]}}],
         "mark": {"type": "text", "text": "R", "fontStyle": "italic", "align": "left", "baseline": "middle", "fontSize": 23, "color": "black"},
         "encoding": {"x": {"datum": 1.5, "type": "quantitative", "axis": null}, "y": {"datum": 0.0595, "type": "quantitative", "axis": null}}},
        {"data": {"name": "r2"}, "transform": [{"filter": {"and": [{"field": "ref", "equal": "OK08"}, {"field": "cls", "equal": "II"}]}}],
         "mark": {"type": "text", "text": "² =", "align": "left", "baseline": "middle", "fontSize": 23, "dx": 16, "color": "black"},
         "encoding": {"x": {"datum": 1.5, "type": "quantitative", "axis": null}, "y": {"datum": 0.0595, "type": "quantitative", "axis": null}}},
        {"data": {"name": "r2"}, "transform": [{"filter": {"and": [{"field": "ref", "equal": "OK08"}, {"field": "cls", "equal": "II"}]}}],
         "mark": {"type": "text", "align": "left", "baseline": "middle", "fontSize": 23, "dx": 48, "color": "black"},
         "encoding": {"text": {"field": "r2", "type": "quantitative", "format": ".2f"}, "x": {"datum": 1.5, "type": "quantitative", "axis": null}, "y": {"datum": 0.0595, "type": "quantitative", "axis": null}}}
      ]
    },
    {"width": 42, "height": 337, "view": {"fill": "#cccccc", "stroke": "#aaaaaa"}, "data": {"values": [{"label": "Class II"}]}, "mark": {"type": "text", "fontSize": 31, "angle": 90, "color": "#1a1a1a"}, "encoding": {"text": {"field": "label"}}}
  ]
}
